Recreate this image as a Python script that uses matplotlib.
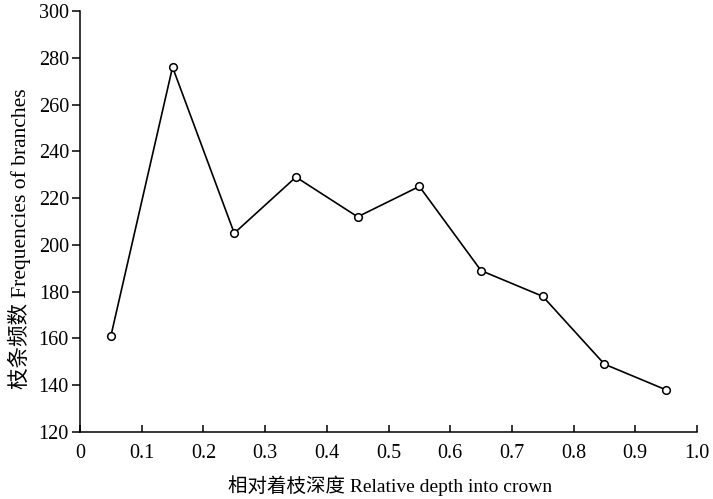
import matplotlib
matplotlib.use("Agg")
import matplotlib.pyplot as plt

plt.rcParams['font.family'] = ['Liberation Serif', 'Noto Sans CJK SC']

x_depth = [0.05, 0.15, 0.25, 0.35, 0.45, 0.55, 0.65, 0.75, 0.85, 0.95]
freq = [161, 276, 205, 229, 212, 225, 189, 178, 149, 138]
x_ticks = [0, 0.1, 0.2, 0.3, 0.4, 0.5, 0.6, 0.7, 0.8, 0.9, 1.0]
x_ticklabels = ['0', '0.1', '0.2', '0.3', '0.4', '0.5', '0.6', '0.7', '0.8', '0.9', '1.0']
y_ticks = [120, 140, 160, 180, 200, 220, 240, 260, 280, 300]

fig = plt.figure(figsize=(7.13, 4.99), dpi=100)
ax = fig.add_axes([80/713, 1-432/499, (697-80)/713, (432-11)/499])

ax.plot(x_depth, freq, color='black', linewidth=1.2, marker='o', markersize=5.5,
        markerfacecolor='white', markeredgecolor='black', markeredgewidth=1.1, clip_on=False)

ax.set_xlim(0, 1.0)
ax.set_ylim(120, 300)
ax.set_xticks(x_ticks)
ax.set_xticklabels(x_ticklabels)
ax.set_yticks(y_ticks)
for s in ['top', 'right']:
    ax.spines[s].set_visible(False)
for s in ['left', 'bottom']:
    ax.spines[s].set_linewidth(1.1)
ax.tick_params(axis='x', direction='in', length=5, width=1.1, labelsize=14.5, pad=9)
ax.tick_params(axis='y', direction='out', length=6, width=1.1, labelsize=14.5, pad=2)

ax.set_xlabel('相对着枝深度 Relative depth into crown', fontsize=14)
ax.set_ylabel('枝条频数 Frequencies of branches', fontsize=15.5)
ax.xaxis.set_label_coords(0.503, -0.103)
ax.yaxis.set_label_coords(-0.080, 0.458)

fig.savefig('out.png', dpi=100)
